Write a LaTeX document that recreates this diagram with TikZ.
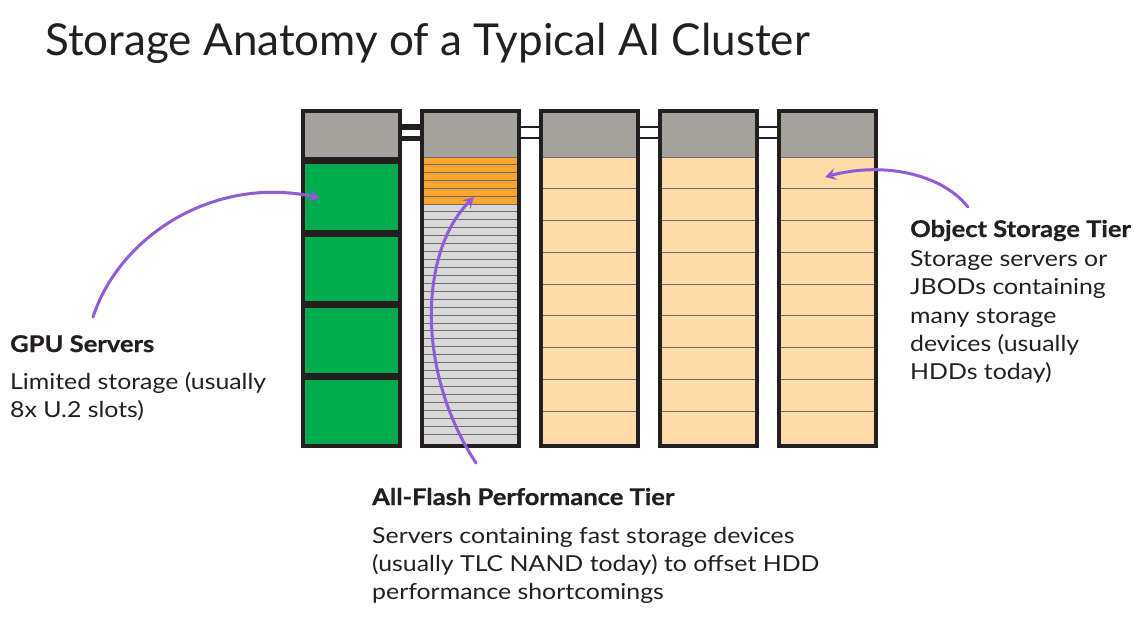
\documentclass[tikz,border=0pt]{standalone}
\usepackage{fontspec}
\setmainfont{Lato}
\newfontfamily\bodyfont{Lato}[FakeStretch=1.13]
\newfontfamily\headfont{Lato}[FakeStretch=1.11, BoldFeatures={FakeStretch=1.11, FakeBold=0.8}]
\usetikzlibrary{arrows.meta}
\definecolor{frame}{HTML}{231F20}
\definecolor{hdr}{HTML}{A5A19C}
\definecolor{gpugreen}{HTML}{00AC4E}
\definecolor{flashorange}{HTML}{FFA62F}
\definecolor{peach}{HTML}{FFDBAA}
\definecolor{lgray}{HTML}{D8D8D8}
\definecolor{stripe}{HTML}{6E6B68}
\definecolor{arrowpurple}{HTML}{8F5BD7}
\definecolor{txt}{HTML}{231F20}
\tikzset{
  rackframe/.style={draw=frame, line width=3.5pt, minimum width=97pt, minimum height=335pt, inner sep=0pt, anchor=north west},
  stripeline/.style={draw=stripe, line width=0.9pt},
  thickcable/.style={draw=frame, line width=5.5pt},
  thincable/.style={draw=frame, line width=2pt},
  pointer/.style={draw=arrowpurple, line width=3pt, line cap=round, -{Stealth[length=11pt,width=12pt,inset=4.5pt]}},
  titletext/.style={anchor=base west, inner sep=0pt, text=txt, font=\fontsize{44}{50}\selectfont},
  headtext/.style={anchor=base west, inner sep=0pt, text=txt, font=\fontsize{23}{28}\headfont\bfseries},
  bodytext/.style={anchor=base west, inner sep=0pt, text=txt, font=\fontsize{22}{28}\bodyfont}
}
\begin{document}
\begin{tikzpicture}[x=1pt,y=-1pt]
\useasboundingbox (0,0) rectangle (1135,616);

% title
\node[titletext] (title) at (45,55) {Storage Anatomy of a Typical AI Cluster};

% rack 1: GPU servers
\fill[frame] (301,157) rectangle (398,444);
\fill[gpugreen] (301,164) rectangle (398,230);
\fill[gpugreen] (301,237) rectangle (398,301);
\fill[gpugreen] (301,308) rectangle (398,373);
\fill[gpugreen] (301,380) rectangle (398,444);

% rack 2: all-flash
\begin{scope}[shift={(119,0)}]
  \fill[flashorange] (301,157) rectangle (398,204);
  \foreach \k in {0,...,5} { \draw[stripeline] (301,{157+7.83*\k}) -- (398,{157+7.83*\k}); }
  \fill[lgray] (301,204) rectangle (398,444);
  \foreach \k in {0,...,29} { \draw[stripeline] (301,{204+7.93*\k}) -- (398,{204+7.93*\k}); }
\end{scope}

% racks 3-5: object storage
\foreach \i in {2,3,4} {
  \begin{scope}[shift={({119*\i},0)}]
    \fill[peach] (301,157) rectangle (398,444);
    \foreach \k in {0,...,8} { \draw[stripeline] (301,{157+31.78*\k}) -- (398,{157+31.78*\k}); }
  \end{scope}
}

% headers
\foreach \i in {0,...,4} {
  \fill[hdr] ({301+119*\i},109) rectangle ({398+119*\i},157);
}

% rack frames and cables
\path (301,109) node[rackframe] (r1) {};
\path (420,109) node[rackframe] (r2) {};
\path (539,109) node[rackframe] (r3) {};
\path (658,109) node[rackframe] (r4) {};
\path (777,109) node[rackframe] (r5) {};
\draw[thickcable] (r1.east |- 0,127) -- (r2.west |- 0,127);
\draw[thickcable] (r1.east |- 0,138.5) -- (r2.west |- 0,138.5);
\draw[thincable] (r2.east |- 0,127) -- (r3.west |- 0,127);
\draw[thincable] (r2.east |- 0,138.3) -- (r3.west |- 0,138.3);
\draw[thincable] (r3.east |- 0,127) -- (r4.west |- 0,127);
\draw[thincable] (r3.east |- 0,138.3) -- (r4.west |- 0,138.3);
\draw[thincable] (r4.east |- 0,127) -- (r5.west |- 0,127);
\draw[thincable] (r4.east |- 0,138.3) -- (r5.west |- 0,138.3);

% labels
\node[headtext] (gpuhead) at (10,352) {GPU Servers};
\node[bodytext] (gpub1) at (10,389) {Limited storage (usually};
\node[bodytext] (gpub2) at (10,417) {8x U.2 slots)};

\node[headtext] (flashhead) at (372,505) {All-Flash Performance Tier};
\node[bodytext] (flashb1) at (372,543) {Servers containing fast storage devices};
\node[bodytext] (flashb2) at (372,571) {(usually TLC NAND today) to offset HDD};
\node[bodytext] (flashb3) at (372,599) {performance shortcomings};

\node[headtext] (objhead) at (910,237) {Object Storage Tier};
\node[bodytext] (objb1) at (910,266) {Storage servers or};
\node[bodytext] (objb2) at (910,294) {JBODs containing};
\node[bodytext] (objb3) at (910,323) {many storage};
\node[bodytext] (objb4) at (910,351) {devices (usually};
\node[bodytext] (objb5) at (910,379) {HDDs today)};

% arrows
\coordinate (gpustart) at (93,317);
\coordinate (gputip) at (320,198);
\coordinate (flashstart) at (476,463);
\coordinate (flashtip) at (474,197);
\coordinate (objstart) at (968,207);
\coordinate (objtip) at (825,177);
\draw[pointer] (gpustart) .. controls (120,235) and (215,175) .. (gputip);
\draw[pointer] (flashstart) .. controls (415,370) and (420,250) .. (flashtip);
\draw[pointer] (objstart) .. controls (940,172) and (880,162) .. (objtip);
\end{tikzpicture}
\end{document}
